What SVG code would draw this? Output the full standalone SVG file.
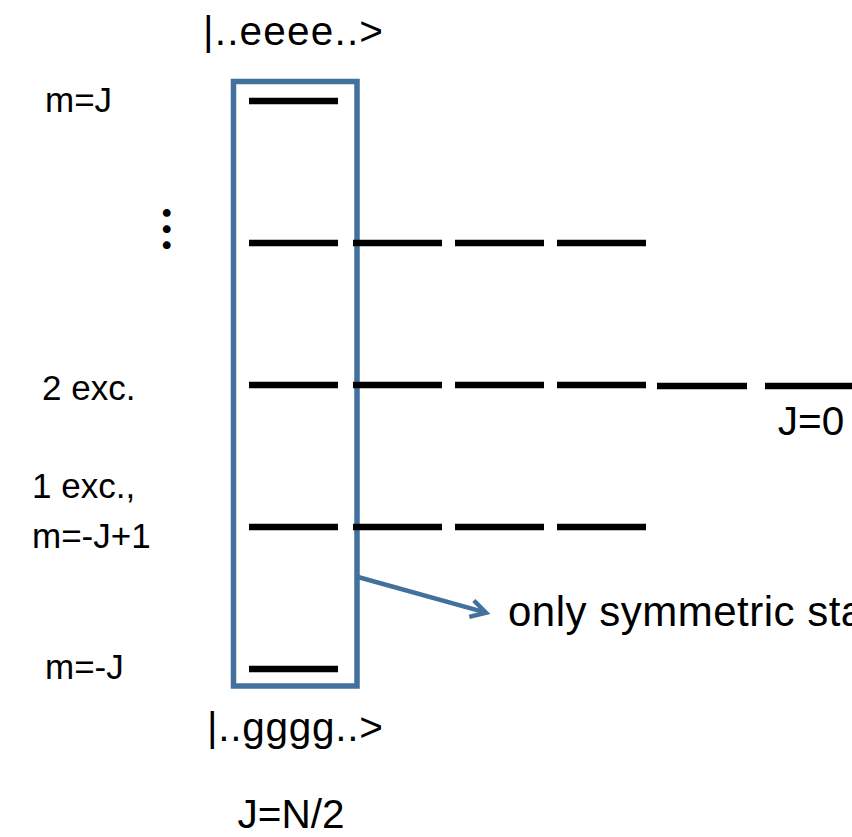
<svg xmlns="http://www.w3.org/2000/svg" width="852" height="837" viewBox="0 0 852 837">
  <style>
    text { font-family: "Liberation Sans", Arial, sans-serif; fill: #000; }
    .lbl { font-size: 35px; }
    .big { font-size: 40.5px; }
    .lvl { stroke: #000; stroke-width: 6.5; fill: none; }
    .dash { stroke: #000; stroke-width: 6.5; fill: none; stroke-dasharray: 89 13; }
    .box { fill: none; stroke: #41719C; stroke-width: 5.5; }
    .conn { stroke: #41719C; stroke-width: 4.5; fill: none; }
  </style>
  <defs>
    <marker id="openArrow" markerUnits="userSpaceOnUse" markerWidth="30" markerHeight="30" refX="0" refY="0" viewBox="-20 -15 30 30" orient="auto" overflow="visible">
      <path d="M-15,-8.5 L0,0 L-15,8.5" fill="none" stroke="#41719C" stroke-width="4.5" stroke-linejoin="miter"/>
    </marker>
  </defs>
  <rect width="852" height="837" fill="#fff"/>

  <g id="sym-box">
    <rect class="box" x="233.5" y="81.5" width="123.5" height="604.5"/>
    <text class="big" x="203" y="45" textLength="180" lengthAdjust="spacing">|..eeee..&gt;</text>
    <text class="big" x="207" y="741" textLength="176" lengthAdjust="spacing">|..gggg..&gt;</text>
    <text class="big" x="291" y="828" text-anchor="middle">J=N/2</text>
  </g>

  <g id="level-mJ">
    <line class="lvl" x1="249" y1="101" x2="338" y2="101"/>
    <text class="lbl" x="45" y="112">m=J</text>
  </g>

  <g id="level-dots">
    <line class="lvl" x1="249" y1="243" x2="338" y2="243"/>
    <line class="dash" x1="353" y1="243" x2="646" y2="243"/>
    <text x="166.7" y="247" text-anchor="middle" style="font-family:'Noto Sans CJK JP',sans-serif;font-size:48px;font-weight:bold">︙</text>
  </g>

  <g id="level-2exc">
    <line class="lvl" x1="249" y1="385" x2="338" y2="385"/>
    <line class="dash" x1="353" y1="385" x2="646" y2="385"/>
    <line class="lvl" x1="657" y1="386" x2="747" y2="386"/>
    <line class="lvl" x1="765" y1="386" x2="852" y2="386"/>
    <text class="lbl" x="42" y="400">2 exc.</text>
    <text class="big" x="811" y="435" text-anchor="middle">J=0</text>
  </g>

  <g id="level-1exc">
    <line class="lvl" x1="249" y1="527" x2="338" y2="527"/>
    <line class="dash" x1="353" y1="527" x2="646" y2="527"/>
    <text class="lbl" x="32" y="498">1 exc.,</text>
    <text class="lbl" x="32" y="548">m=-J+1</text>
  </g>

  <g id="level-m-J">
    <line class="lvl" x1="249" y1="669" x2="338" y2="669"/>
    <text class="lbl" x="45" y="679">m=-J</text>
  </g>

  <g id="note">
    <text x="508" y="626" style="font-size:42px;letter-spacing:0.5px">only symmetric sta</text>
  </g>

  <g id="connectors">
    <line class="conn" x1="358" y1="577" x2="486" y2="612.7" marker-end="url(#openArrow)"/>
  </g>
</svg>
